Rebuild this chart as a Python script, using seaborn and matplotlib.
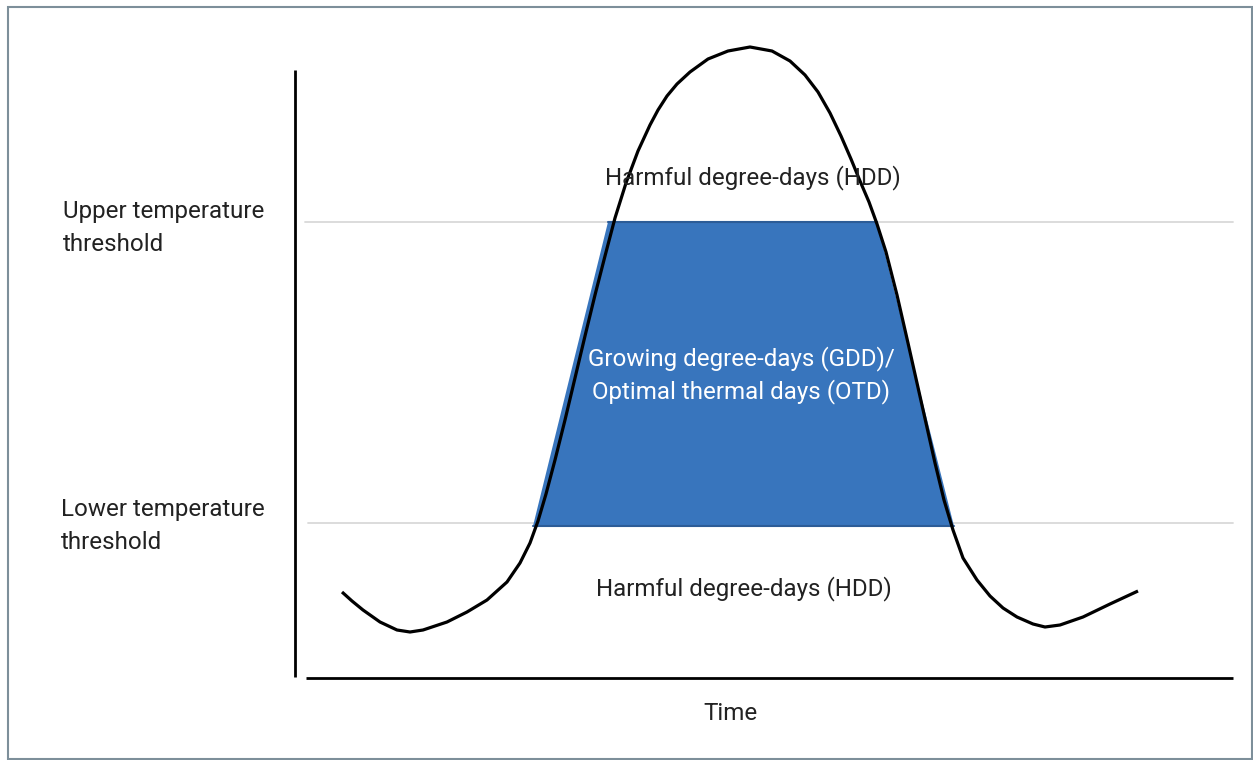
import matplotlib
matplotlib.use("Agg")
import matplotlib.pyplot as plt
from matplotlib.patches import Rectangle
import seaborn as sns
import pandas as pd

# Data (time units vs temperature units)
curve_time = [47, 57, 68, 85, 102, 115, 128, 152, 172, 192, 212, 225, 235, 243,
              251, 260, 270, 280, 290, 300, 310, 320, 331, 343, 355, 363, 372, 382,
              395, 413, 433, 455, 477, 495, 510, 523, 535, 546, 556, 565, 574,
              582, 591, 602, 613, 622, 631, 640, 649, 658, 668, 682, 695, 708,
              722, 738, 750, 765, 788, 815, 843]
curve_temp = [86, 77, 68, 56, 48, 46, 48, 56, 66, 78, 96, 115, 135, 157,
              184, 218, 258, 300, 342, 383, 422, 460, 495, 527, 553, 568, 582, 594,
              606, 619, 627, 631, 627, 617, 603, 586, 565, 542, 519, 497, 476,
              454, 426, 383, 335, 295, 255, 215, 178, 148, 120, 98, 82, 70,
              61, 54, 51, 53, 61, 74, 87]

lower_threshold = 155
upper_threshold = 456
gdd_time = [238, 313, 582, 659]
gdd_temp = [152, upper_threshold, upper_threshold, 152]

label_upper = "Upper temperature\nthreshold"
label_lower = "Lower temperature\nthreshold"
label_hdd = "Harmful degree-days (HDD)"
label_gdd = "Growing degree-days (GDD)/\nOptimal thermal days (OTD)"
label_time = "Time"

sns.set_theme(style="white")
plt.rcParams["font.family"] = ["Roboto", "DejaVu Sans"]

fig = plt.figure(figsize=(12.53, 7.6), dpi=100)
ax = fig.add_axes([0, 0, 1, 1])

# threshold lines
ax.plot([10, 938], [upper_threshold, upper_threshold], color="#d9d9d9", lw=1.3, zorder=1)
ax.plot([13, 938], [lower_threshold, lower_threshold], color="#d9d9d9", lw=1.3, zorder=1)

# GDD trapezoid
ax.fill(gdd_time, gdd_temp, facecolor="#3875bd", edgecolor="none", zorder=2)
ax.plot(gdd_time[1:3], gdd_temp[1:3], color="#2c5c97", lw=1.5, zorder=2)
ax.plot([gdd_time[0], gdd_time[3]], [gdd_temp[0], gdd_temp[3]], color="#2c5c97", lw=1.5, zorder=2)

# temperature curve
df = pd.DataFrame({"time": curve_time, "temp": curve_temp})
sns.lineplot(data=df, x="time", y="temp", sort=False, color="black", lw=2.3,
             ax=ax, zorder=3, solid_joinstyle="round", solid_capstyle="butt")

# axes lines
ax.plot([0, 0], [1, 608], color="black", lw=2.0, zorder=3, solid_capstyle="butt")
ax.plot([11, 938], [0, 0], color="black", lw=2.0, zorder=3, solid_capstyle="butt")

ax.set_xlim(-295, 958)
ax.set_ylim(-82, 678)
ax.axis("off")

tc = "#222222"
fs = 17.4
ax.text(-232, 450, label_upper, ha="left", va="center", fontsize=fs, color=tc, linespacing=1.6)
ax.text(-234, 152, label_lower, ha="left", va="center", fontsize=fs, color=tc, linespacing=1.6)
ax.text(458, 500, label_hdd, ha="center", va="center", fontsize=fs, color=tc, zorder=4)
ax.text(446, 303, label_gdd, ha="center", va="center", fontsize=fs, color="white",
        linespacing=1.42, zorder=4)
ax.text(449, 89, label_hdd, ha="center", va="center", fontsize=fs, color=tc, zorder=4)
ax.text(436, -35, label_time, ha="center", va="center", fontsize=fs, color=tc)

# frame border
fig.patches.append(Rectangle((7.5 / 1253, 1.0 / 760), 1244 / 1253, 752.5 / 760,
                             transform=fig.transFigure, fill=False,
                             edgecolor="#7d8f9a", lw=1.5, zorder=10))

fig.savefig("out.png", dpi=100)
